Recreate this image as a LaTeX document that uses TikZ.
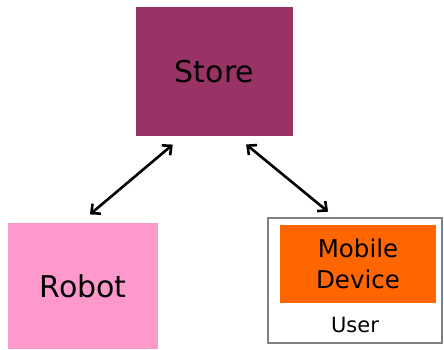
\documentclass[tikz,border=0pt]{standalone}
\usepackage{fontspec}
\setmainfont{DejaVu Sans}
\usetikzlibrary{arrows.meta}
\definecolor{storec}{HTML}{993366}
\definecolor{robotc}{HTML}{FF99CC}
\definecolor{mobilec}{HTML}{FF6600}
\definecolor{userc}{HTML}{808080}
\begin{document}
\begin{tikzpicture}[x=1pt,y=1pt,
  box/.style={inner sep=0pt, align=center},
  arr/.style={line width=2.6pt, {Straight Barb[length=7pt,width=13pt]}-{Straight Barb[length=7pt,width=13pt]}}]
\useasboundingbox (0,0) rectangle (444,349);
\node[box, fill=storec, minimum width=157pt, minimum height=129pt, font=\fontsize{30}{34}\selectfont] (store) at (214.5,277.5) {Store};
\node[box, fill=robotc, minimum width=150pt, minimum height=126pt, font=\fontsize{30}{34}\selectfont] (robot) at (83,63) {Robot};
\node[box, draw=userc, line width=1.2pt, fill=white, minimum width=174pt, minimum height=125pt] (user) at (355,68.5) {};
\node[box, fill=mobilec, minimum width=156pt, minimum height=78pt, font=\fontsize{24.5}{31}\selectfont] (mobile) at (358,85) {Mobile\\Device};
\node[box, font=\fontsize{21}{24}\selectfont] (userlbl) at (355,24) {User};
\draw[arr, shorten <=13pt, shorten >=13pt] ([xshift=-31.8pt]store.south) -- ([xshift=-3pt]robot.north);
\draw[arr, shorten <=13pt, shorten >=9pt] ([xshift=21.6pt]store.south) -- ([xshift=-20pt]user.north);
\end{tikzpicture}
\end{document}
